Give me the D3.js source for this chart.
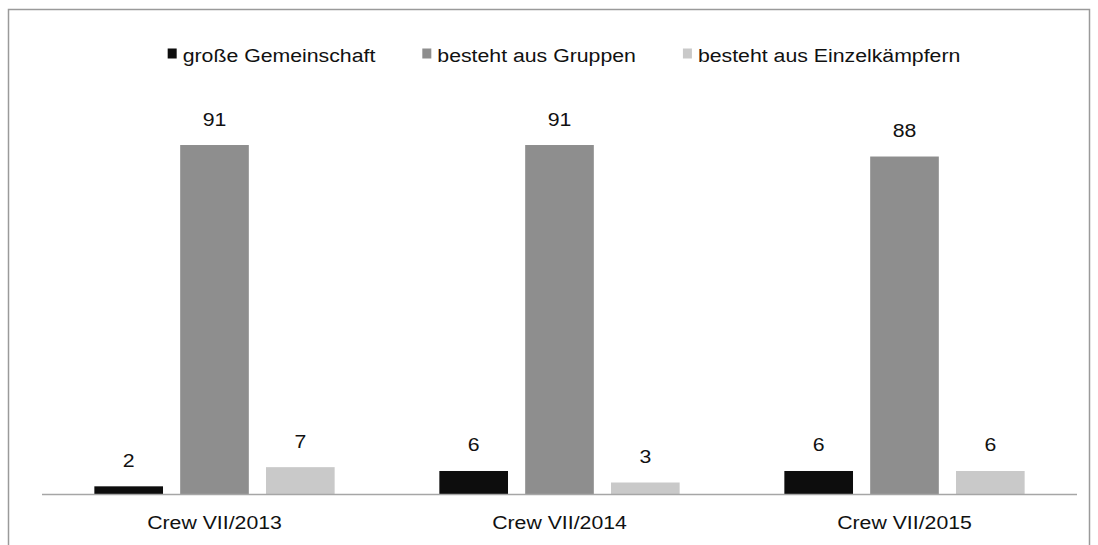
<!DOCTYPE html>
<html>
<head>
<meta charset="utf-8">
<script src="https://cdn.jsdelivr.net/npm/d3@7"></script>
<style>
  body { margin: 0; background: #fff; }
  svg text { font-family: "Liberation Sans", Arial, sans-serif; fill: #111; }
</style>
</head>
<body>
<svg id="chart" width="1098" height="545"></svg>
<script>
// data
const categories = ['Crew VII/2013', 'Crew VII/2014', 'Crew VII/2015'];
const seriesNames = ['große Gemeinschaft', 'besteht aus Gruppen', 'besteht aus Einzelkämpfern'];
const gemeinschaft = [2, 6, 6];
const gruppen = [91, 91, 88];
const einzel = [7, 3, 6];
const seriesColors = ['#0d0d0d', '#8e8e8e', '#c9c9c9'];

const seriesValues = [gemeinschaft, gruppen, einzel];
const stretch = 1.12; // text in the picture is a bit wider than normal
const fontSize = '19px';

const svg = d3.select('#chart');

// frame
svg.append('rect')
  .attr('x', 8.5).attr('y', 9.5)
  .attr('width', 1081).attr('height', 600)
  .attr('fill', 'none')
  .attr('stroke', '#9a9a9a')
  .attr('stroke-width', 1.5);

const x0 = d3.scaleBand()
  .domain(categories)
  .range([42, 1077])
  .padding(0);

const x1 = d3.scaleBand()
  .domain(seriesNames)
  .range([0, x0.bandwidth()])
  .paddingInner(0.2)
  .paddingOuter(0.61);

const y = d3.scaleLinear()
  .domain([0, 100])
  .range([494, 110.5]);

const rows = categories.map((c, i) => ({
  cat: c,
  vals: seriesNames.map((s, j) => ({ name: s, value: seriesValues[j][i], color: seriesColors[j] }))
}));

const groups = svg.selectAll('g.group')
  .data(rows)
  .join('g')
  .attr('class', 'group')
  .attr('transform', d => `translate(${x0(d.cat)},0)`);

groups.selectAll('rect')
  .data(d => d.vals)
  .join('rect')
  .attr('x', d => x1(d.name))
  .attr('y', d => y(d.value))
  .attr('width', x1.bandwidth())
  .attr('height', d => y(0) - y(d.value))
  .attr('fill', d => d.color);

groups.selectAll('text.value')
  .data(d => d.vals)
  .join('text')
  .attr('class', 'value')
  .attr('transform', d => `translate(${x1(d.name) + x1.bandwidth() / 2},${y(d.value) - 19.5}) scale(${stretch},1)`)
  .attr('text-anchor', 'middle')
  .style('font-size', fontSize)
  .text(d => d.value);

// x axis line
svg.append('line')
  .attr('x1', 42).attr('x2', 1077)
  .attr('y1', y(0) + 0.5).attr('y2', y(0) + 0.5)
  .attr('stroke', '#a6a6a6')
  .attr('stroke-width', 1.5);

svg.selectAll('text.cat')
  .data(categories)
  .join('text')
  .attr('class', 'cat')
  .attr('transform', d => `translate(${x0(d) + x0.bandwidth() / 2},529) scale(${stretch},1)`)
  .attr('text-anchor', 'middle')
  .style('font-size', fontSize)
  .text(d => d);

// legend, centred as one row
const legend = svg.append('g');
const items = legend.selectAll('g')
  .data(seriesNames)
  .join('g');

items.append('rect')
  .attr('width', 9).attr('height', 10)
  .attr('y', 48.5)
  .attr('fill', (d, i) => seriesColors[i]);

items.append('text')
  .attr('transform', `translate(15,62) scale(${stretch},1)`)
  .style('font-size', fontSize)
  .text(d => d);

let pos = 0;
const widths = [];
items.each(function() {
  const w = this.querySelector('text').getComputedTextLength() * stretch + 15;
  widths.push(w);
});
items.attr('transform', (d, i) => {
  const t = `translate(${pos},0)`;
  pos += widths[i] + 47;
  return t;
});
const total = pos - 47;
legend.attr('transform', `translate(${564 - total / 2},0)`);
</script>
</body>
</html>
